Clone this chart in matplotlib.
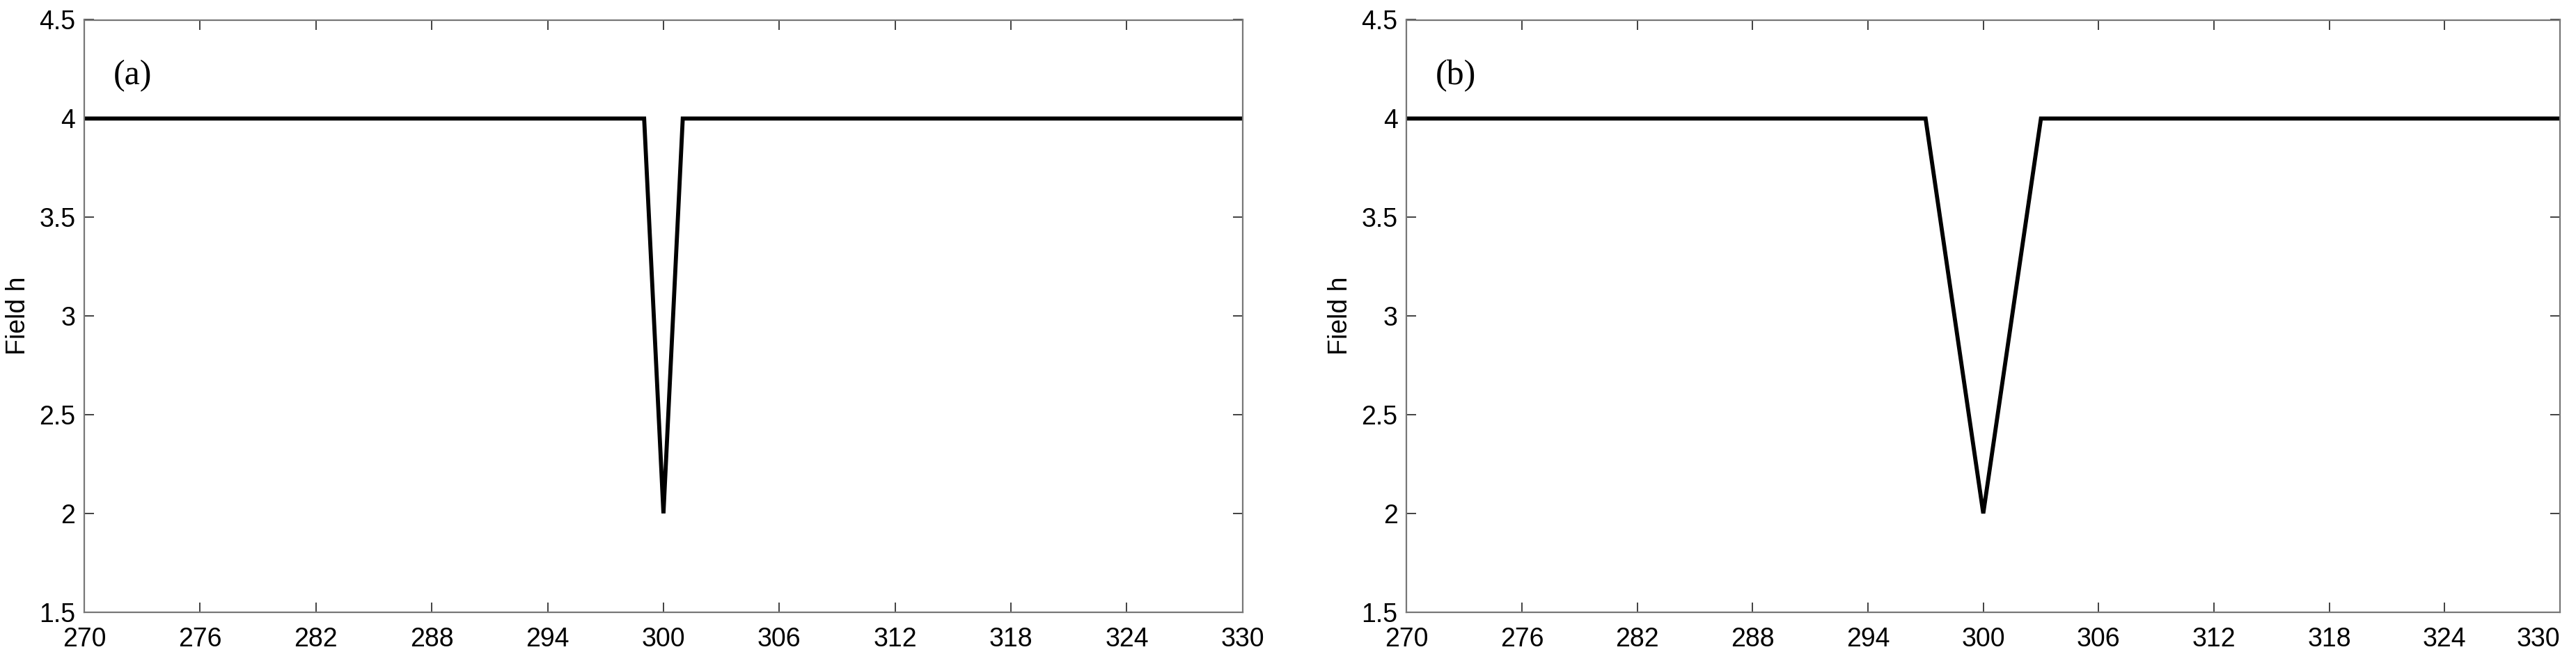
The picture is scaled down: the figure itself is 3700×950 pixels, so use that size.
import matplotlib
matplotlib.use("Agg")
import matplotlib.pyplot as plt
import numpy as np

# field profile h(x)
x_a = [270, 299, 300, 301, 330]
h_a = [4, 4, 2, 4, 4]
x_b = [270, 297, 300, 303, 330]
h_b = [4, 4, 2, 4, 4]
panel_labels = ["(a)", "(b)"]
xticks = [270, 276, 282, 288, 294, 300, 306, 312, 318, 324, 330]
yticks = [1.5, 2, 2.5, 3, 3.5, 4, 4.5]
ytick_labels = ["1.5", "2", "2.5", "3", "3.5", "4", "4.5"]

plt.rcParams['font.family'] = ['Liberation Sans', 'DejaVu Sans']

fig = plt.figure(figsize=(37, 9.5), dpi=100)
boxes = [[0.0327, 0.074, 0.4497, 0.896], [0.546, 0.074, 0.4478, 0.896]]

axes = []
for box, xs, hs, lab in zip(boxes, [x_a, x_b], [h_a, h_b], panel_labels):
    ax = fig.add_axes(box)
    ax.plot(xs, hs, color='black', lw=4.2, solid_joinstyle='miter')
    ax.set_xlim(270, 330)
    ax.set_ylim(1.5, 4.5)
    ax.set_xticks(xticks)
    ax.set_yticks(yticks)
    ax.set_yticklabels(ytick_labels)
    ax.tick_params(direction='in', top=True, right=True, length=10, width=1.3,
                   color='#333333', labelsize=27)
    ax.tick_params(axis='x', pad=15)
    ax.tick_params(axis='y', pad=9)
    for s in ax.spines.values():
        s.set_color('#777777')
        s.set_linewidth(1.6)
    ax.set_ylabel("Field h", fontsize=27, labelpad=9)
    ax.text(0.025, 0.905, lab, transform=ax.transAxes, fontsize=36,
            family='Liberation Serif', va='center', ha='left')
    axes.append(ax)

# keep the last label of the right panel inside the figure
fig.canvas.draw()
axes[1].get_xticklabels()[-1].set_horizontalalignment('right')

fig.savefig("out.png", dpi=100)
